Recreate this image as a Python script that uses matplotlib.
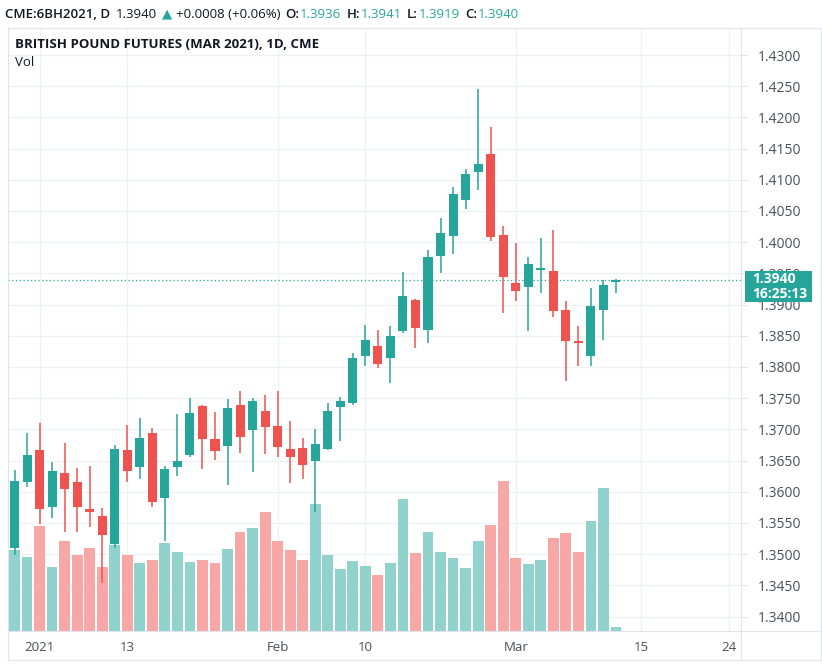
import matplotlib
matplotlib.use("Agg")
import matplotlib.pyplot as plt
from matplotlib.patches import Rectangle
from matplotlib.lines import Line2D

# ---------------- data ----------------
opens = [1.3510, 1.3616, 1.3667, 1.3575, 1.3630, 1.3616, 1.3572, 1.3561, 1.3516, 1.3667,
         1.3639, 1.3695, 1.3590, 1.3639, 1.3659, 1.3738, 1.3685, 1.3674, 1.3739, 1.3699,
         1.3730, 1.3705, 1.3669, 1.3670, 1.3650, 1.3669, 1.3736, 1.3743, 1.3818, 1.3834,
         1.3815, 1.3857, 1.3907, 1.3859, 1.3978, 1.4010, 1.4067, 1.4113, 1.4141, 1.4011,
         1.3934, 1.3929, 1.3955, 1.3954, 1.3891, 1.3842, 1.3818, 1.3891, 1.3936]
highs = [1.3635, 1.3695, 1.3711, 1.3648, 1.3678, 1.3638, 1.3641, 1.3574, 1.3675, 1.3707,
         1.3718, 1.3703, 1.3641, 1.3724, 1.3750, 1.3739, 1.3728, 1.3749, 1.3762, 1.3750,
         1.3755, 1.3762, 1.3714, 1.3687, 1.3701, 1.3742, 1.3752, 1.3822, 1.3867, 1.3860,
         1.3865, 1.3953, 1.3909, 1.3988, 1.4039, 1.4089, 1.4118, 1.4245, 1.4184, 1.4026,
         1.3998, 1.3976, 1.4007, 1.4020, 1.3905, 1.3866, 1.3927, 1.3939, 1.3941]
lows = [1.3499, 1.3608, 1.3548, 1.3558, 1.3536, 1.3536, 1.3543, 1.3454, 1.3510, 1.3615,
        1.3620, 1.3575, 1.3521, 1.3625, 1.3655, 1.3637, 1.3651, 1.3611, 1.3662, 1.3632,
        1.3660, 1.3655, 1.3614, 1.3620, 1.3567, 1.3667, 1.3681, 1.3739, 1.3802, 1.3798,
        1.3775, 1.3855, 1.3830, 1.3839, 1.3951, 1.3981, 1.4054, 1.4084, 1.4002, 1.3887,
        1.3905, 1.3858, 1.3919, 1.3880, 1.3778, 1.3801, 1.3801, 1.3843, 1.3919]
closes = [1.3617, 1.3659, 1.3572, 1.3633, 1.3605, 1.3575, 1.3567, 1.3531, 1.3669, 1.3634,
          1.3687, 1.3584, 1.3637, 1.3649, 1.3727, 1.3685, 1.3666, 1.3734, 1.3688, 1.3746,
          1.3704, 1.3672, 1.3656, 1.3643, 1.3677, 1.3730, 1.3746, 1.3815, 1.3843, 1.3805,
          1.3850, 1.3914, 1.3862, 1.3977, 1.4014, 1.4078, 1.4109, 1.4125, 1.4009, 1.3945,
          1.3922, 1.3965, 1.3958, 1.3889, 1.3842, 1.3838, 1.3898, 1.3931, 1.3940]
volumes = [80000, 74000, 104000, 64000, 89000, 75000, 82000, 64000, 85000, 75000,
           68000, 71000, 87000, 78000, 69000, 71000, 68000, 81000, 98000, 102000,
           118000, 89000, 80000, 71000, 126000, 75000, 62000, 70000, 65000, 56000,
           68000, 131000, 77000, 98000, 78000, 73000, 63000, 89000, 105000, 149000,
           73000, 67000, 71000, 92000, 97000, 78000, 109000, 142000, 4000]
date_tick_index = [2, 9, 21, 28, 40, 50, 57]
date_tick_labels = ['2021', '13', 'Feb', '10', 'Mar', '15', '24']
price_ticks = [1.3400, 1.3450, 1.3500, 1.3550, 1.3600, 1.3650, 1.3700, 1.3750, 1.3800,
               1.3850, 1.3900, 1.3950, 1.4000, 1.4050, 1.4100, 1.4150, 1.4200, 1.4250, 1.4300]
last_price = 1.3940
countdown = '16:25:13'
title = 'BRITISH POUND FUTURES (MAR 2021), 1D, CME'

# ---------------- style ----------------
W, H = 822, 666
plt.rcParams['font.family'] = ['Open Sans', 'DejaVu Sans']
fig = plt.figure(figsize=(W / 100, H / 100), dpi=100)
fig.patch.set_facecolor('white')

def fx(px):
    return px / W

def fy(py):
    return 1 - py / H

UP, DN = '#26a69a', '#ef5350'
UPV, DNV = '#92d2cc', '#f7a8a6'
GRID = '#eef0f4'
FRAME = '#e0e3eb'
TXT = '#131722'
AXT = '#4c4f59'

L, R, T, B = 8, 741, 28, 631
pos = [fx(L), fy(B), (R - L) / W, (B - T) / H]
ax = fig.add_axes(pos, zorder=0)
ax_v = fig.add_axes(pos, zorder=1, sharex=ax)
ax_c = fig.add_axes(pos, zorder=2, sharex=ax, sharey=ax)

n = len(opens)
xs = list(range(n))
YLO, YHI = 1.337692, 1.434327

# grid / scale axis
ax.set_facecolor('white')
ax.set_xlim(-0.52, 57.98)
ax.set_ylim(YLO, YHI)
for s in ax.spines.values():
    s.set_visible(False)
ax.yaxis.tick_right()
ax.set_yticks(price_ticks)
ax.set_yticklabels([f'{p:.4f}' for p in price_ticks])
ax.tick_params(axis='y', direction='out', length=4, width=0.8, color=FRAME,
               pad=8, labelsize=10, labelcolor=AXT)
ax.set_xticks(date_tick_index)
ax.set_xticklabels(date_tick_labels)
ax.tick_params(axis='x', length=0, pad=7, labelsize=9.5, labelcolor=AXT)
ax.grid(True, color=GRID, linewidth=0.9)

# volume
ax_v.patch.set_visible(False)
ax_v.set_axis_off()
vcol = [UPV if c >= o else DNV for o, c in zip(opens, closes)]
ax_v.bar(xs, volumes, width=0.86, color=vcol, linewidth=0)
ax_v.set_ylim(0, max(volumes) * 603 / 150)

# candles
ax_c.patch.set_visible(False)
ax_c.set_axis_off()
ccol = [UP if c >= o else DN for o, c in zip(opens, closes)]
ax_c.vlines(xs, lows, highs, colors=ccol, linewidth=1.1, zorder=2)
bottoms = [min(o, c) for o, c in zip(opens, closes)]
heights = [max(abs(c - o), 0.00015) for o, c in zip(opens, closes)]
ax_c.bar(xs, heights, bottom=bottoms, width=0.72, color=ccol, linewidth=0, zorder=3)
ax_c.axhline(last_price, color=UP, linewidth=0.9, linestyle=(0, (1, 2)), zorder=1)

# frame lines
for (x0, y0, x1, y1) in [(L, T, W - 1, T), (L, T, L, 660), (L, 660, W - 1, 660),
                         (R, T, R, 660), (L, B, W - 1, B), (W - 1, T, W - 1, 660)]:
    fig.add_artist(Line2D([fx(x0), fx(x1)], [fy(y0), fy(y1)], color=FRAME,
                          linewidth=0.8, zorder=4))

# last price box
lp_px = B - (last_price - YLO) / (YHI - YLO) * (B - T)
box_top_px = lp_px - 9
fig.add_artist(Rectangle((fx(745), fy(box_top_px + 31)), 67 / W, 31 / H,
                         facecolor=UP, edgecolor='none', zorder=5))
fig.text(fx(752), fy(box_top_px + 8.5), f'{last_price:.4f}', color='white',
         fontsize=10, fontweight='bold', va='center', ha='left', zorder=6)
fig.text(fx(752), fy(box_top_px + 23), countdown, color='white',
         fontsize=10, fontweight='bold', va='center', ha='left', zorder=6)

# header
renderer = fig.canvas.get_renderer()
pieces = [('CME:6BH2021, D', TXT, 'semibold', 6),
          ('1.3940', TXT, 'normal', 5),
          ('\u25B2', UP, 'normal', 3),
          ('+0.0008 (+0.06%)', TXT, 'normal', 5),
          ('O:', TXT, 'semibold', 1),
          ('1.3936', UP, 'normal', 5),
          ('H:', TXT, 'semibold', 1),
          ('1.3941', UP, 'normal', 5),
          ('L:', TXT, 'semibold', 1),
          ('1.3919', UP, 'normal', 5),
          ('C:', TXT, 'semibold', 1),
          ('1.3940', UP, 'normal', 0)]
xcur = 5
for txt, col, wt, gap in pieces:
    fam = ['DejaVu Sans'] if txt == '\u25B2' else ['Open Sans', 'DejaVu Sans']
    t = fig.text(fx(xcur), fy(14), txt, color=col, fontsize=9.5, fontweight=wt,
                 va='center', ha='left', family=fam)
    bb = t.get_window_extent(renderer=renderer)
    xcur += bb.width + gap

fig.text(fx(15), fy(45), title, color=TXT, fontsize=9.5, fontweight='bold',
         va='center', ha='left')
fig.text(fx(15), fy(63), 'Vol', color=TXT, fontsize=9.5, va='center', ha='left')

fig.savefig('out.png', dpi=100, facecolor='white')
